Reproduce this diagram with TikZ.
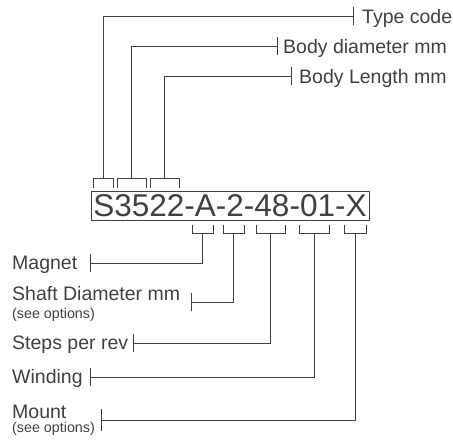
\documentclass[tikz,border=0pt]{standalone}
\usepackage{fontspec}
\setmainfont{Liberation Sans}
\usetikzlibrary{arrows.meta}
\definecolor{ink}{HTML}{404040}
\begin{document}
\begin{tikzpicture}[x=1pt, y=-1pt,
  lead/.style={draw=ink, line width=0.8pt, -{Bar[width=18pt, line width=0.8pt]}},
  brace/.style={draw=ink, line width=0.8pt},
  lbl/.style={anchor=base west, inner sep=0pt, text=ink, font=\fontsize{19.5}{22}\selectfont},
  note/.style={anchor=base west, inner sep=0pt, text=ink, font=\fontsize{14.3}{16}\selectfont}]
\useasboundingbox (0,0) rectangle (453,445);
% part number box
\node (code) [draw=ink, line width=0.8pt, minimum width=278pt, minimum height=29pt, inner sep=0pt, text=ink, font=\fontsize{31.5}{32}\selectfont] at (230,205.5) {S3522-A-2-48-01-X};
% brackets above
\draw [brace] (93,188) |- (113,178) -- (113,188);
\draw [brace] (117,188) |- (146,178) -- (146,188);
\draw [brace] (150,188) |- (179,178) -- (179,188);
% brackets below
\draw [brace] (192,225) |- (213,233) -- (213,225);
\draw [brace] (223,225) |- (244,233) -- (244,225);
\draw [brace] (256,225) |- (285,233) -- (285,225);
\draw [brace] (299,225) |- (329,233) -- (329,225);
\draw [brace] (344,225) |- (366,233) -- (366,225);
% bracket middles
\coordinate (T1) at (103,178);
\coordinate (T2) at (131.5,178);
\coordinate (T3) at (164.5,178);
\coordinate (B1) at (202.5,233);
\coordinate (B2) at (233.5,233);
\coordinate (B3) at (270.5,233);
\coordinate (B4) at (314,233);
\coordinate (B5) at (355,233);
% tick ends
\coordinate (E1) at (354,16);
\coordinate (E2) at (278,46);
\coordinate (E3) at (292,76);
\coordinate (F1) at (90,263);
\coordinate (F2) at (191,302);
\coordinate (F3) at (133,343);
\coordinate (F4) at (90,377);
\coordinate (F5) at (101,420);
% leaders
\draw [lead] (T1) |- (E1);
\draw [lead] (T2) |- (E2);
\draw [lead] (T3) |- (E3);
\draw [lead] (B1) |- (F1);
\draw [lead] (B2) |- (F2);
\draw [lead] (B3) |- (F3);
\draw [lead] (B4) |- (F4);
\draw [lead, -{Bar[width=22pt, line width=0.8pt]}] (B5) |- (F5);
% labels
\node [lbl] (type) at (362,23) {Type code};
\node [lbl] (diam) at (283,53) {Body diameter mm};
\node [lbl] (len) at (299,83) {Body Length mm};
\node [lbl] (mag) at (12,269) {Magnet};
\node [lbl] (shaft) at (12,300) {Shaft Diameter mm};
\node [note] (shaftopt) at (12,318) {(see options)};
\node [lbl] (steps) at (12,349) {Steps per rev};
\node [lbl] (wind) at (12,383) {Winding};
\node [lbl] (mount) at (12,418) {Mount};
\node [note] (mountopt) at (12,432) {(see options)};
\end{tikzpicture}
\end{document}
